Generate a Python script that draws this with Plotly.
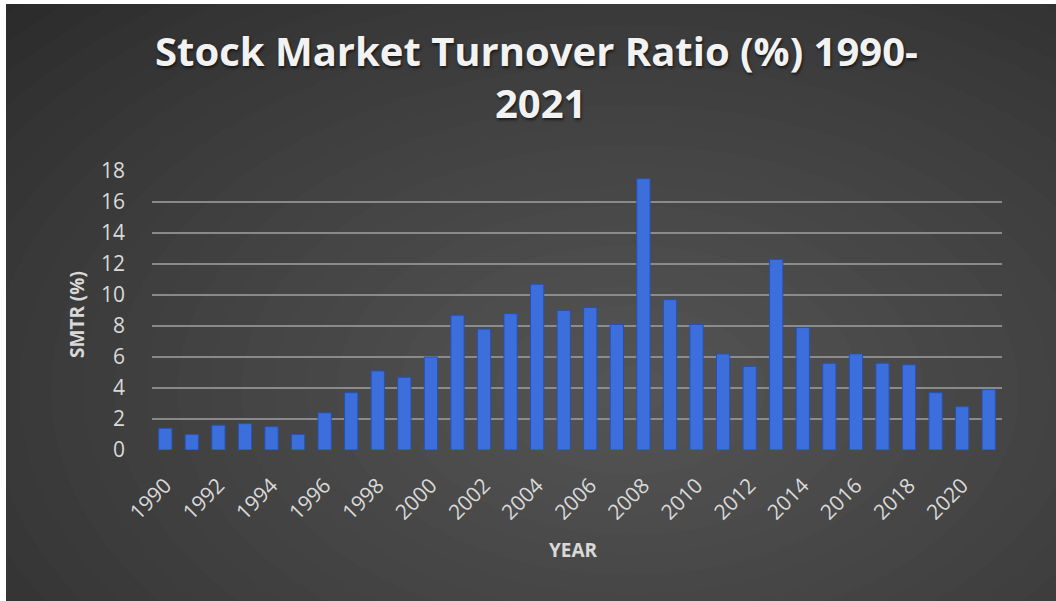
import plotly.graph_objects as go

years = list(range(1990, 2022))
smtr = [1.4, 1.0, 1.6, 1.7, 1.5, 1.0, 2.4, 3.7, 5.1, 4.7, 6.0,
        8.7, 7.8, 8.8, 10.7, 9.0, 9.2, 8.1, 17.5, 9.7, 8.1,
        6.2, 5.4, 12.3, 7.9, 5.6, 6.2, 5.6, 5.5, 3.7, 2.8, 3.9]
y_ticks = list(range(0, 20, 2))
title_lines = ["Stock Market Turnover Ratio (%) 1990-", "2021"]

W, H = 1056, 601
L, R, T, B = 152, 54, 171, 151
pw, ph = W - L - R, H - T - B

def px(x):
    return (x - L) / pw

def py(y):
    return (H - B - y) / ph

shapes = []
# radial-ish gradient background via concentric ellipses
cx, cy = 630, 390
n = 30
dark = (37, 37, 37)
light = (84, 84, 84)
for i in range(n):
    f = i / (n - 1)
    rx = 920 * (1 - f) + 40
    ry = 580 * (1 - f) + 25
    c = tuple(int(dark[k] + (light[k] - dark[k]) * (f ** 0.8)) for k in range(3))
    shapes.append(dict(type="circle", xref="paper", yref="paper",
                       x0=px(cx - rx), x1=px(cx + rx), y0=py(cy + ry), y1=py(cy - ry),
                       fillcolor="rgb(%d,%d,%d)" % c, line=dict(width=0), layer="below"))
# white margins
shapes.append(dict(type="rect", xref="paper", yref="paper", x0=px(-10), x1=px(6),
                   y0=py(H + 10), y1=py(-10), fillcolor="white", line=dict(width=0), layer="below"))
shapes.append(dict(type="rect", xref="paper", yref="paper", x0=px(-10), x1=px(W + 10),
                   y0=py(4), y1=py(-10), fillcolor="white", line=dict(width=0), layer="below"))

fig = go.Figure(go.Bar(
    x=years, y=smtr, width=0.5,
    marker=dict(color="#3c6fdc", line=dict(color="#2851b0", width=1)),
))

title_font = dict(family="Open Sans", size=40, color="#f2f2f2",
                  shadow="1px 2px 3px rgba(0,0,0,0.6)")
annotations = [
    dict(text="<b>%s</b>" % title_lines[0], xref="paper", yref="paper",
         x=px(536), y=py(51), xanchor="center", yanchor="middle",
         showarrow=False, font=title_font),
    dict(text="<b>%s</b>" % title_lines[1], xref="paper", yref="paper",
         x=px(540), y=py(103), xanchor="center", yanchor="middle",
         showarrow=False, font=title_font),
    dict(text="<b>YEAR</b>", xref="paper", yref="paper",
         x=px(573), y=py(550), xanchor="center", yanchor="middle",
         showarrow=False, font=dict(family="Open Sans", size=19, color="#d9d9d9")),
    dict(text="<b>SMTR (%)</b>", xref="paper", yref="paper",
         x=px(77), y=py(315), xanchor="center", yanchor="middle", textangle=-90,
         showarrow=False, font=dict(family="Open Sans", size=19, color="#d9d9d9")),
]

fig.update_layout(
    width=W, height=H,
    margin=dict(l=L, r=R, t=T, b=B, pad=0),
    paper_bgcolor="#262626", plot_bgcolor="rgba(0,0,0,0)",
    shapes=shapes, annotations=annotations,
    showlegend=False,
    font=dict(family="Open Sans", color="#d9d9d9"),
)
fig.update_xaxes(
    range=[1989.5, 2021.5], tickmode="linear", tick0=1990, dtick=2,
    tickangle=-45, tickfont=dict(size=21, color="#d9d9d9"),
    showgrid=False, zeroline=False, showline=False, ticks="",
    ticklabelstandoff=18,
)
fig.update_yaxes(
    range=[0, 18], tickvals=y_ticks, tickfont=dict(size=21, color="#d9d9d9"),
    showgrid=True, gridcolor="rgba(150,150,150,0.85)", gridwidth=2,
    zeroline=False, showline=False, ticks="", ticklabelstandoff=26,
)

fig.write_html("out.html")
